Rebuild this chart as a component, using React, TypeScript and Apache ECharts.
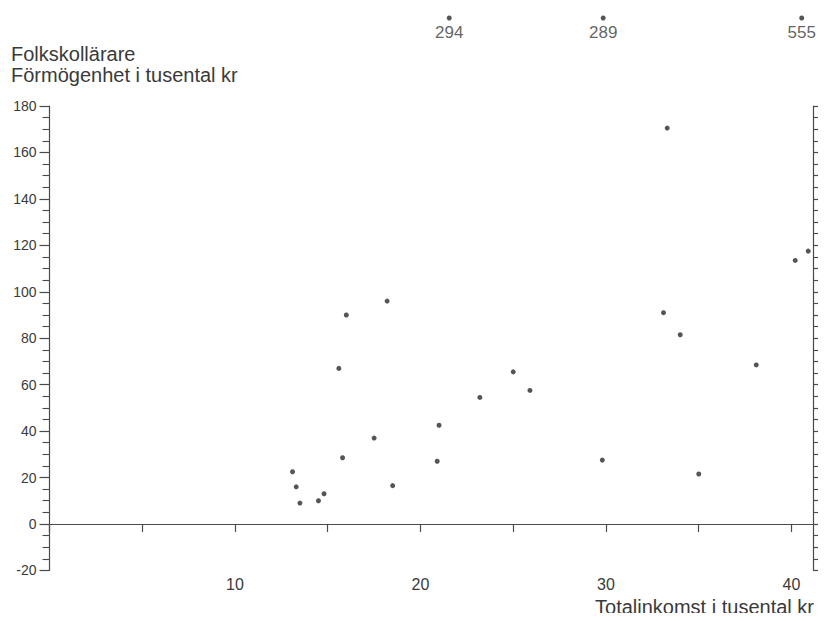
import React, { useEffect, useRef } from "react";
import * as echarts from "echarts";

// Main scatter data: Totalinkomst (tusental kr) vs Förmögenhet (tusental kr)
const incomeValues: number[] = [
  18.2, 16.0, 15.6, 25.0, 25.9, 23.2, 21.0, 17.5, 15.8, 20.9, 13.1, 13.3, 18.5, 14.8, 14.5, 13.5,
  33.3, 33.1, 34.0, 29.8, 35.0, 38.1, 40.2, 40.9,
];
const wealthValues: number[] = [
  96, 90, 67, 65.5, 57.5, 54.5, 42.5, 37, 28.5, 27, 22.5, 16, 16.5, 13, 10, 9,
  170.5, 91, 81.5, 27.5, 21.5, 68.5, 113.5, 117.5,
];

// Points lying off the scale (shown at the top with their value)
const offScaleIncome: number[] = [21.55, 29.85, 40.55];
const offScaleWealth: number[] = [294, 289, 555];

const yTicks = { min: -20, max: 180, step: 20 };
const xTicks = { min: 0, max: 41.86, step: 5, labelStep: 10 };

const yTitleLines = ["Folkskollärare", "Förmögenhet i tusental kr"];
const xTitle = "Totalinkomst i tusental kr";

const FONT = "Liberation Sans";
const INK = "#3a3a3a";
const AXIS = "#4a4a4a";

export default function App() {
  const ref = useRef<HTMLDivElement>(null);
  useEffect(() => {
    if (!ref.current) return;
    const chart = echarts.init(ref.current, undefined, { renderer: "svg" });
    const mainData = incomeValues.map((x, i) => [x, wealthValues[i]]);
    const offData = offScaleIncome.map((x, i) => [x, 0.5, offScaleWealth[i]]);
    chart.setOption({
      animation: false,
      backgroundColor: "#ffffff",
      grid: [
        { left: 49.5, right: 0, top: 106, bottom: 50.6, containLabel: false, outerBoundsMode: "none" },
        { left: 49.5, right: 0, top: 8, height: 20, containLabel: false, outerBoundsMode: "none" },
      ],
      xAxis: [
        {
          gridIndex: 0,
          type: "value",
          min: xTicks.min,
          max: xTicks.max,
          interval: xTicks.step,
          axisLine: { show: true, onZero: true, lineStyle: { color: AXIS, width: 1.2 } },
          axisTick: { show: true, length: 8, lineStyle: { color: AXIS, width: 1.2 } },
          axisLabel: {
            margin: 6,
            fontFamily: FONT,
            fontSize: 16,
            color: INK,
            formatter: (v: number) =>
              v > 0 && Math.abs(v % xTicks.labelStep) < 1e-6 ? String(v) : "",
          },
          splitLine: { show: false },
        },
        {
          gridIndex: 1,
          type: "value",
          min: xTicks.min,
          max: xTicks.max,
          show: false,
        },
      ],
      yAxis: [
        {
          gridIndex: 0,
          type: "value",
          min: yTicks.min,
          max: yTicks.max,
          interval: yTicks.step,
          axisLine: { show: true, onZero: false, lineStyle: { color: AXIS, width: 1.2 } },
          axisTick: { show: true, length: 10, lineStyle: { color: AXIS, width: 1.2 } },
          minorTick: { show: true, splitNumber: 4, length: 7, lineStyle: { color: AXIS, width: 1.1 } },
          axisLabel: { margin: 13, fontFamily: FONT, fontSize: 14, color: INK },
          splitLine: { show: false },
          minorSplitLine: { show: false },
        },
        {
          gridIndex: 0,
          type: "value",
          position: "right",
          offset: -12.5,
          min: yTicks.min,
          max: yTicks.max,
          interval: 10,
          axisLine: { show: true, onZero: false, lineStyle: { color: AXIS, width: 1.2 } },
          axisTick: { show: true, inside: false, length: 9, lineStyle: { color: AXIS, width: 1.2 } },
          minorTick: { show: true, splitNumber: 2, length: 5, lineStyle: { color: AXIS, width: 1.1 } },
          axisLabel: { show: false },
          splitLine: { show: false },
        },
        {
          gridIndex: 1,
          type: "value",
          min: 0,
          max: 1,
          show: false,
        },
      ],
      series: [
        {
          type: "scatter",
          xAxisIndex: 0,
          yAxisIndex: 0,
          data: mainData,
          symbol: "circle",
          symbolSize: 5,
          itemStyle: { color: "#2a2a2a" },
        },
        {
          type: "scatter",
          xAxisIndex: 1,
          yAxisIndex: 2,
          data: offData,
          symbol: "circle",
          symbolSize: 5,
          itemStyle: { color: "#2a2a2a" },
          label: {
            show: true,
            position: "bottom",
            distance: 3,
            fontFamily: FONT,
            fontSize: 17,
            color: INK,
            formatter: (p: any) => String(p.value[2]),
          },
        },
      ],
      graphic: [
        {
          type: "text",
          left: 11,
          top: 43,
          style: {
            text: yTitleLines.join("\n"),
            font: `20px "${FONT}"`,
            lineHeight: 21,
            fill: INK,
          },
        },
        {
          type: "text",
          right: 12,
          top: 597,
          style: {
            text: xTitle,
            font: `20px "${FONT}"`,
            fill: INK,
          },
        },
      ],
    });
    return () => chart.dispose();
  }, []);
  return <div ref={ref} style={{ width: 826, height: 621, margin: -8 }} />;
}
